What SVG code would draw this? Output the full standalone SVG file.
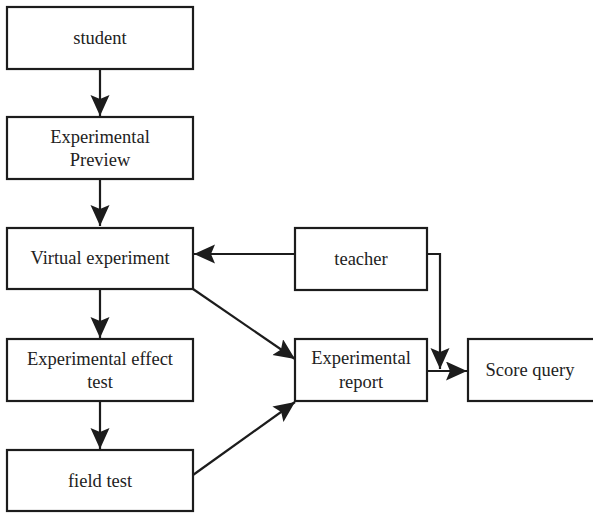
<svg xmlns="http://www.w3.org/2000/svg" width="593" height="513" viewBox="0 0 593 513">
  <style>
    .box { fill: #ffffff; stroke: #1c1c1c; stroke-width: 2.2; }
    .lbl { font-family: 'Liberation Serif', 'Times New Roman', serif; font-size: 18.5px; fill: #222222; text-anchor: middle; }
    .edge { fill: none; stroke: #1c1c1c; stroke-width: 2.2; }
  </style>
  <defs>
    <marker id="arrow" markerUnits="userSpaceOnUse" markerWidth="25" markerHeight="21" refX="21" refY="9.5" orient="auto">
      <path d="M0,0 L21,9.5 L0,19 L4,9.5 z" fill="#1c1c1c"/>
    </marker>
  </defs>
  <rect width="593" height="513" fill="#ffffff"/>

  <g id="connectors">
    <line class="edge" x1="100" y1="69" x2="100" y2="116" marker-end="url(#arrow)"/>
    <line class="edge" x1="100" y1="179" x2="100" y2="226" marker-end="url(#arrow)"/>
    <line class="edge" x1="100" y1="289" x2="100" y2="338" marker-end="url(#arrow)"/>
    <line class="edge" x1="100" y1="401" x2="100" y2="449" marker-end="url(#arrow)"/>
    <line class="edge" x1="295" y1="254" x2="194" y2="254" marker-end="url(#arrow)"/>
    <line class="edge" x1="193" y1="289" x2="295" y2="359" marker-end="url(#arrow)"/>
    <line class="edge" x1="193" y1="475" x2="295" y2="402" marker-end="url(#arrow)"/>
    <polyline class="edge" points="427,254 440,254 440,369" marker-end="url(#arrow)"/>
    <line class="edge" x1="427" y1="371" x2="467" y2="371" marker-end="url(#arrow)"/>
  </g>

  <g id="student">
    <rect class="box" x="7" y="7" width="186" height="62"/>
    <text class="lbl" x="100" y="44">student</text>
  </g>
  <g id="experimental-preview">
    <rect class="box" x="7" y="117" width="186" height="62"/>
    <text class="lbl" x="100" y="143">Experimental</text>
    <text class="lbl" x="100" y="166">Preview</text>
  </g>
  <g id="virtual-experiment">
    <rect class="box" x="7" y="228" width="186" height="61"/>
    <text class="lbl" x="100" y="264">Virtual experiment</text>
  </g>
  <g id="effect-test">
    <rect class="box" x="7" y="339" width="186" height="62"/>
    <text class="lbl" x="100" y="365">Experimental effect</text>
    <text class="lbl" x="100" y="388">test</text>
  </g>
  <g id="field-test">
    <rect class="box" x="7" y="450" width="186" height="61"/>
    <text class="lbl" x="100" y="487">field test</text>
  </g>
  <g id="teacher">
    <rect class="box" x="295" y="228" width="132" height="62"/>
    <text class="lbl" x="361" y="265">teacher</text>
  </g>
  <g id="experimental-report">
    <rect class="box" x="295" y="339" width="132" height="62"/>
    <text class="lbl" x="361" y="364">Experimental</text>
    <text class="lbl" x="361" y="388">report</text>
  </g>
  <g id="score-query">
    <rect class="box" x="468" y="339" width="127" height="62"/>
    <text class="lbl" x="530" y="376">Score query</text>
  </g>
</svg>
